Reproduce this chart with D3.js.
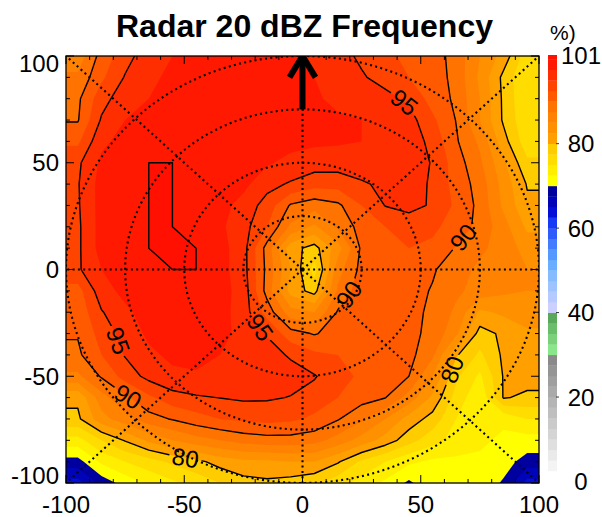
<!DOCTYPE html>
<html><head><meta charset="utf-8">
<script src="https://cdn.jsdelivr.net/npm/d3@7"></script>
<style>
html,body{margin:0;padding:0;background:#fff;}
svg{display:block;font-family:"Liberation Sans",Arial,Helvetica,sans-serif;}
</style></head><body>
<svg id="chart" width="602" height="517"></svg>
<script>
// ---------------- data ----------------
const chartTitle = "Radar 20 dBZ Frequency";
const unitText = "%)";
const xNodes = [-95,-85,-75,-65,-55,-45,-35,-25,-15,-5,5,15,25,35,45,55,65,75,85,95];
const yNodes = [100,90,80,70,60,50,40,30,20,10,0,-10,-20,-30,-40,-50,-60,-70,-80,-90,-100];
// frequency (%) per row, x from -95 to 95
const freq_y100 = [86,91,94,96.5,97.5,98,98,98,98,98,97,96,94.5,93,92,91.2,89,85,81.5,76];
const freq_y90  = [88,92,95.2,97,98,98.5,98.5,98.5,98.5,98,97.5,96.5,95.3,94,92.5,91.3,89.2,84.5,79.3,75];
const freq_y80  = [89.5,94,96.5,97.5,98.5,99,99,99,98.8,98.3,97.8,97,96.5,95.8,94.5,91.5,89.5,85,79.5,75];
const freq_y70  = [89.8,95.3,97.5,98.5,99,99,99,99,99,98.5,98.2,97.8,97.5,97,96,93,89.9,85,79.6,75.5];
const freq_y60  = [92,97,98.3,99,99,99,99,99,98.8,98.3,98,97.8,97.5,97.2,96.5,94.2,90.3,87,81,76];
const freq_y50  = [94.5,98,98.5,100,100,99.3,99,98.5,97.8,96.8,96.2,96.2,96.3,96.5,96.5,94.8,91.2,88,83,78];
const freq_y40  = [94.8,98.5,98.8,100,100,99.5,99,98.2,95.8,94.7,93.5,93.5,94.7,95.5,96.3,94.6,91.5,89,84,79.8];
const freq_y30  = [94.7,98.5,99,100,100,99.5,98.5,96.5,94,89.7,88.5,89.5,92.5,95.1,95.8,94.7,92,89.3,84.5,80.5];
const freq_y20  = [94.5,98.5,99,100,100,99.5,98,96,92.5,87,84.5,88,91,92.5,93.5,93,91.5,89.2,86,82];
const freq_y10  = [94.5,98.5,99,100,100,100,98.5,96,89,81,79,84,90.5,92,92.5,92,89.8,88,86.5,84];
const freq_y0   = [94.6,97.5,98.5,99.5,100,100,98.5,96,89.3,82.5,76.5,86.5,90.8,92,91.5,90.3,88.5,87,86,85];
const freq_ym10 = [91.5,96.5,98.2,99,99.5,99.3,98.5,96.5,89,81.5,79,88,91.5,92,91,89.8,88,86.5,85.5,85];
const freq_ym20 = [90.8,94.8,97,98.5,99,98.8,98.5,96.3,91.5,86,85,90.3,92,92,90.8,89.5,87,82,83,84];
const freq_ym30 = [90.2,93.5,96,98,98.5,98.5,98,97,94.8,91,89.8,91,92,91.5,90.5,89.5,85.5,79,80.5,82];
const freq_ym40 = [89.5,92.5,95.2,97,98,98,97.5,97,96,94.7,93,92.5,92,91,90.8,88,80.3,77,80.5,81];
const freq_ym50 = [87,90.3,93.5,95.8,97,97.3,97.3,97,96.5,96,95.2,93.5,92,91,90,85,78,74.5,80.2,81];
const freq_ym60 = [80.5,86.5,89.5,92,94,94.7,95.05,95.4,95.3,94.9,94,92.5,91,90.1,86.5,82,76.5,73,80.2,79.5];
const freq_ym70 = [79.5,84,86.5,89,90.2,91.5,92.5,93,93.3,93,92,90.2,88,85,81.5,79,75,72.5,73,75];
const freq_ym80 = [74,77.5,80.2,83,85,86.5,87.5,88.5,89,89,88.5,86.5,84,81.5,78.5,76,74,73,72,71.5];
const freq_ym90 = [69,73,75,76.5,78,79.3,81,82,82,82.5,82.5,80.3,77,75,73,72,72,72,71,69];
const freq_ym100= [64,68.5,71,73,74.5,76,77.5,79,79.5,79,78,76,74,72,69.5,72,72.5,71.5,69.7,64];

const contourLevels = [80, 90, 95, 100];
const axisTicks = [-100, -50, 0, 50, 100];
const colorbarTicks = [0, 20, 40, 60, 80, 101];
const ringRadii = [25, 50, 75, 100];
const spokeAngles = [0, 45, 90, 135, 180, 225, 270, 315];
// contour label anchors (level, approx data x, y)
const labelLevels = [95, 90, 90, 95, 95, 90, 80, 80];
const labelX = [43.5, 68, 20, -16.5, -77, -73, -49, 61];
const labelY = [79, 15, -12, -26, -33, -58, -85, -46];

// ---------------- styling / layout ----------------
const W = 602, H = 517;
const plot = {left: 66, right: 539, top: 56, bottom: 483};
const cbar = {left: 548, width: 9, top: 55, bottom: 481.5, labelX: 581};
const fillStep = 2.5;
const colorSegments = [
  {lo: 0,  hi: 30,  stops: [[0, "#ffffff"], [30, "#8a8a8a"]]},
  {lo: 30, hi: 40,  stops: [[30, "#8ae68a"], [40, "#5aa85a"]]},
  {lo: 40, hi: 70,  stops: [[40, "#ccd0ff"], [47.5, "#8cc0ff"], [52.5, "#5aa5ff"], [57.5, "#3c70ff"], [62.5, "#1030f5"], [65, "#0008d0"], [70, "#00009e"]]},
  {lo: 70, hi: 80,  stops: [[70, "#ffff00"], [80, "#ffcc00"]]},
  {lo: 80, hi: 90,  stops: [[80, "#ffa000"], [90, "#ff7400"]]},
  {lo: 90, hi: 101, stops: [[90, "#ff5a00"], [101, "#ff1000"]]}
];
function bandColor(t) {
  const seg = colorSegments.find(s => t >= s.lo && t < s.hi) || colorSegments[colorSegments.length - 1];
  const sc = d3.scaleLinear().domain(seg.stops.map(s => s[0])).range(seg.stops.map(s => s[1])).clamp(true);
  const v = seg.lo + (t - seg.lo) * (seg.hi - seg.lo) / Math.max(seg.hi - seg.lo - fillStep, 1e-6);
  return sc(v);
}

const svg = d3.select("#chart");
const defs = svg.append("defs");
defs.append("clipPath").attr("id", "plotClip").append("rect")
  .attr("x", plot.left).attr("y", plot.top)
  .attr("width", plot.right - plot.left).attr("height", plot.bottom - plot.top);

const x = d3.scaleLinear().domain([-100, 100]).range([plot.left, plot.right]);
const y = d3.scaleLinear().domain([-100, 100]).range([plot.bottom, plot.top]);
const cy = d3.scaleLinear().domain([0, 101]).range([cbar.bottom, cbar.top]);

const rows = [freq_y100, freq_y90, freq_y80, freq_y70, freq_y60, freq_y50, freq_y40, freq_y30, freq_y20, freq_y10,
  freq_y0, freq_ym10, freq_ym20, freq_ym30, freq_ym40, freq_ym50, freq_ym60, freq_ym70, freq_ym80, freq_ym90, freq_ym100];
// pad the grid by repeating edge values so the field stays flat up to the plot border
const padRow = r => [r[0], ...r, r[r.length - 1]];
const padded = [padRow(rows[0]), ...rows.map(padRow), padRow(rows[rows.length - 1])];
const nx = xNodes.length + 2, ny = yNodes.length + 2;
const values = padded.flat();
const dxStep = xNodes[1] - xNodes[0], dyStep = yNodes[1] - yNodes[0];
const x0 = xNodes[0] - dxStep, y0 = yNodes[0] - dyStep;
const gx = c => x(x0 + (c - 0.5) * dxStep);
const gy = c => y(y0 + (c - 0.5) * dyStep);
const proj = d3.geoTransform({point(px, py) { this.stream.point(gx(px), gy(py)); }});
const path = d3.geoPath(proj);

// ---------------- filled contours ----------------
const fillLevels = d3.range(0, 100 + 1e-9, fillStep);
const fills = d3.contours().size([nx, ny]).thresholds(fillLevels)(values);
const gFill = svg.append("g").attr("clip-path", "url(#plotClip)");
gFill.selectAll("path").data(fills).join("path")
  .attr("d", path).attr("fill", d => bandColor(d.value));

// ---------------- polar dotted grid ----------------
const gGrid = svg.append("g").attr("clip-path", "url(#plotClip)")
  .attr("fill", "none").attr("stroke", "#000").attr("stroke-width", 2.1)
  .attr("stroke-dasharray", "2 3.3");
ringRadii.forEach(r => gGrid.append("ellipse")
  .attr("cx", x(0)).attr("cy", y(0)).attr("rx", x(r) - x(0)).attr("ry", y(0) - y(r)));
spokeAngles.forEach(a => {
  const rad = a * Math.PI / 180;
  gGrid.append("line").attr("x1", x(0)).attr("y1", y(0))
    .attr("x2", x(160 * Math.cos(rad))).attr("y2", y(160 * Math.sin(rad)));
});

// ---------------- contour lines ----------------
const lineContours = d3.contours().size([nx, ny]).thresholds(contourLevels)(values);
function isBoundarySeg(a, b) {
  return (a[0] <= 0 && b[0] <= 0) || (a[0] >= nx && b[0] >= nx) ||
         (a[1] <= 0 && b[1] <= 0) || (a[1] >= ny && b[1] >= ny);
}
function toLines(mp) {
  const out = [];
  mp.coordinates.forEach(poly => poly.forEach(ring => {
    const pieces = []; let cur = []; let hadBoundary = false;
    for (let i = 0; i < ring.length - 1; i++) {
      const a = ring[i], b = ring[i + 1];
      if (isBoundarySeg(a, b)) { hadBoundary = true; if (cur.length > 1) pieces.push(cur); cur = []; continue; }
      if (cur.length === 0) cur.push([gx(a[0]), gy(a[1])]);
      cur.push([gx(b[0]), gy(b[1])]);
    }
    if (cur.length > 1) pieces.push(cur);
    if (hadBoundary && pieces.length > 1) {
      const first = pieces[0], last = pieces[pieces.length - 1];
      const e = last[last.length - 1], s = first[0];
      if (Math.abs(e[0] - s[0]) < 1e-6 && Math.abs(e[1] - s[1]) < 1e-6) {
        pieces[0] = last.concat(first.slice(1)); pieces.pop();
      }
    }
    pieces.forEach(p => out.push(p));
  }));
  return out;
}
const linesByLevel = new Map();
lineContours.forEach(c => linesByLevel.set(c.value, toLines(c)));

const mask = defs.append("mask").attr("id", "lineMask").attr("maskUnits", "userSpaceOnUse")
  .attr("x", 0).attr("y", 0).attr("width", W).attr("height", H);
mask.append("rect").attr("width", W).attr("height", H).attr("fill", "white");

const gLines = svg.append("g").attr("clip-path", "url(#plotClip)");
const gLinesInner = gLines.append("g").attr("mask", "url(#lineMask)");
const lineGen = d3.line();
contourLevels.forEach(lv => {
  (linesByLevel.get(lv) || []).forEach(l => {
    gLinesInner.append("path").attr("d", lineGen(l)).attr("fill", "none")
      .attr("stroke", "#000").attr("stroke-width", 1.4).attr("stroke-linejoin", "round");
  });
});

// ---------------- contour labels ----------------
function nearestOn(lines, P) {
  let best = {d: Infinity};
  lines.forEach(l => {
    for (let i = 0; i < l.length - 1; i++) {
      const a = l[i], b = l[i + 1];
      const vx = b[0] - a[0], vy = b[1] - a[1], L2 = vx * vx + vy * vy;
      if (!L2) continue;
      let t = ((P[0] - a[0]) * vx + (P[1] - a[1]) * vy) / L2;
      t = Math.max(0, Math.min(1, t));
      const q = [a[0] + t * vx, a[1] + t * vy];
      const d = Math.hypot(q[0] - P[0], q[1] - P[1]);
      if (d < best.d) best = {d, q, ang: Math.atan2(vy, vx) * 180 / Math.PI};
    }
  });
  return best;
}
const gLabels = svg.append("g");
labelLevels.forEach((lv, i) => {
  const lines = linesByLevel.get(lv) || [];
  const best = nearestOn(lines, [x(labelX[i]), y(labelY[i])]);
  if (!best.q) return;
  let ang = best.ang;
  while (ang > 90) ang -= 180;
  while (ang <= -90) ang += 180;
  const tf = `translate(${best.q[0]},${best.q[1]}) rotate(${ang})`;
  const t = gLabels.append("text").attr("transform", tf)
    .attr("text-anchor", "middle").attr("dy", "0.36em")
    .attr("font-size", 24).attr("fill", "#000").text(String(lv));
  const w = t.node().getComputedTextLength() + 6;
  mask.append("rect").attr("x", -w / 2).attr("y", -10).attr("width", w).attr("height", 20)
    .attr("transform", tf).attr("fill", "black");
});

// ---------------- north arrow ----------------
const gArrow = svg.append("g").attr("clip-path", "url(#plotClip)")
  .attr("stroke", "#000").attr("fill", "none").attr("stroke-width", 6);
gArrow.append("line").attr("x1", x(0)).attr("y1", y(75)).attr("x2", x(0)).attr("y2", y(100));
gArrow.append("polyline").attr("stroke-linejoin", "miter").attr("stroke-miterlimit", 10)
  .attr("points", [[x(-5.5), y(90)], [x(0), y(100)], [x(5.5), y(90)]].map(p => p.join(",")).join(" "));

// ---------------- frame and ticks ----------------
const gAxes = svg.append("g").attr("stroke", "#000").attr("stroke-width", 1);
const minorTicks = d3.range(-100, 100.1, 10);
minorTicks.forEach(t => {
  const len = axisTicks.includes(t) ? 8 : 4;
  gAxes.append("line").attr("x1", x(t)).attr("x2", x(t)).attr("y1", plot.bottom).attr("y2", plot.bottom - len);
  gAxes.append("line").attr("x1", x(t)).attr("x2", x(t)).attr("y1", plot.top).attr("y2", plot.top + len);
  gAxes.append("line").attr("y1", y(t)).attr("y2", y(t)).attr("x1", plot.left).attr("x2", plot.left + len);
  gAxes.append("line").attr("y1", y(t)).attr("y2", y(t)).attr("x1", plot.right).attr("x2", plot.right - len);
});
svg.append("rect").attr("x", plot.left).attr("y", plot.top)
  .attr("width", plot.right - plot.left).attr("height", plot.bottom - plot.top)
  .attr("fill", "none").attr("stroke", "#000").attr("stroke-width", 1.3);

const gText = svg.append("g").attr("font-size", 24).attr("fill", "#000");
axisTicks.forEach(t => {
  gText.append("text").attr("x", x(t)).attr("y", 512.5).attr("text-anchor", "middle").text(t);
  const yc = Math.max(plot.top + 7.5, Math.min(plot.bottom - 7.5, y(t)));
  gText.append("text").attr("x", 59).attr("y", yc).attr("dy", "0.36em").attr("text-anchor", "end").text(t);
});

// ---------------- colorbar ----------------
const gC = svg.append("g");
fillLevels.forEach(t => {
  const top = Math.min(t + fillStep, 101);
  gC.append("rect").attr("x", cbar.left).attr("width", cbar.width)
    .attr("y", cy(top)).attr("height", cy(t) - cy(top) + 0.3)
    .attr("fill", bandColor(t));
});
colorbarTicks.forEach(t => {
  if (t > 0 && t < 101) {
    gC.append("line").attr("x1", cbar.left + cbar.width - 1).attr("x2", cbar.left + cbar.width + 2)
      .attr("y1", cy(t)).attr("y2", cy(t)).attr("stroke", "#333").attr("stroke-width", 1);
  }
  gText.append("text").attr("x", cbar.labelX).attr("y", cy(t)).attr("dy", "0.36em")
    .attr("text-anchor", "middle").text(t);
});
svg.append("text").attr("x", 550).attr("y", 40).attr("font-size", 21).text(unitText);

// ---------------- title ----------------
svg.append("text").attr("x", 304.5).attr("y", 37).attr("text-anchor", "middle")
  .attr("font-size", 32).attr("font-weight", "bold").text(chartTitle);
</script>
</body></html>
